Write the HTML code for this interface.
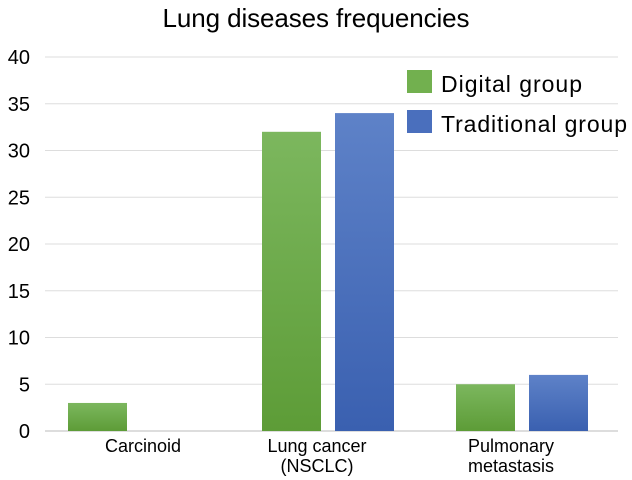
<!DOCTYPE html>
<html><head><meta charset="utf-8"><style>
body{margin:0;background:#fff;}
svg{display:block;font-family:"Liberation Sans",Arial,sans-serif;}
</style></head><body>
<svg id="chart" width="632" height="480">
<defs>
<linearGradient id="gG" x1="0" y1="0" x2="0" y2="1"><stop offset="0" stop-color="#7cb75e"/><stop offset="1" stop-color="#5d9c37"/></linearGradient>
<linearGradient id="gB" x1="0" y1="0" x2="0" y2="1"><stop offset="0" stop-color="#5e82c8"/><stop offset="1" stop-color="#3a60b0"/></linearGradient>
</defs>
<text x="316" y="27" text-anchor="middle" font-size="26" textLength="307" fill="#000">Lung diseases frequencies</text>
<g id="grid"></g><g id="bars"></g><g id="xl"></g>
<g>
<rect x="407" y="70" width="25" height="23" fill="#72b04f"/>
<text x="441" y="92" font-size="23" textLength="141">Digital group</text>
<rect x="407" y="110" width="25" height="23" fill="#4a6fbd"/>
<text x="441" y="132" font-size="23" textLength="186">Traditional group</text>
</g>
</svg>
<script>
const categories=[["Carcinoid"],["Lung cancer","(NSCLC)"],["Pulmonary","metastasis"]];
const digital=[3,32,5];
const traditional=[0,34,6];
const yTicks=[0,5,10,15,20,25,30,35,40];
const NS="http://www.w3.org/2000/svg";
const y=v=>431-v*9.35;
const gx=i=>68+i*194;
function mk(t,a,p){const e=document.createElementNS(NS,t);for(const k in a)e.setAttribute(k,a[k]);p.appendChild(e);return e;}
const grid=document.getElementById('grid'),bars=document.getElementById('bars'),xl=document.getElementById('xl');
yTicks.forEach(v=>{
 const l=mk('line',{x1:45,x2:618,y1:y(v),y2:y(v),stroke:v===0?'#bbb':'#ddd','stroke-width':1},grid);
 
 
 const t=mk('text',{x:30,y:y(v)+7,'text-anchor':'end','font-size':20},grid);t.textContent=v;
 
 
});
categories.forEach((c,i)=>{
 const x0=gx(i);
 if(digital[i]>0){const r=mk('rect',{x:x0,y:y(digital[i]),width:59,height:431-y(digital[i]),fill:'url(#gG)'},bars);
 
 }
 if(traditional[i]>0){const r=mk('rect',{x:x0+73,y:y(traditional[i]),width:59,height:431-y(traditional[i]),fill:'url(#gB)'},bars);
 
 }
 const cx=i===0?x0+75:x0+55;
 c.forEach((s,j)=>{const t=mk('text',{x:cx,y:452+j*20,'text-anchor':'middle','font-size':18},xl);t.textContent=s;
 
 });
});
</script>
</body></html>
